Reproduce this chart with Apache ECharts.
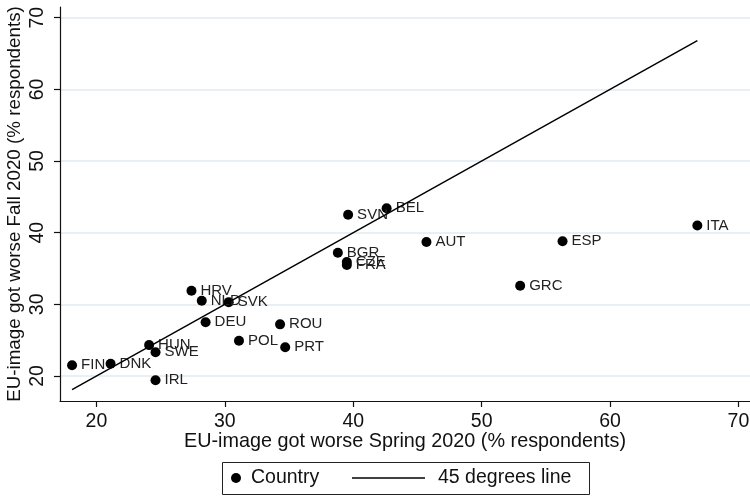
<!DOCTYPE html>
<html>
<head>
<meta charset="utf-8">
<script src="https://cdn.jsdelivr.net/npm/echarts@6/dist/echarts.min.js"></script>
<style>
html,body{margin:0;padding:0;background:#fff;}
#chart{width:750px;height:496px;}
</style>
</head>
<body>
<div id="chart"></div>
<script>
const countries = ['FIN','DNK','HUN','SWE','IRL','HRV','NLD','SVK','DEU','POL','ROU','PRT','SVN','BEL','AUT','BGR','CZE','FRA','ESP','ITA','GRC'];
const spring2020 = [18.1,21.1,24.1,24.6,24.6,27.4,28.2,30.3,28.5,31.1,34.3,34.7,39.6,42.6,45.7,38.8,39.5,39.5,56.3,66.8,53.0];
const fall2020 = [21.5,21.7,24.3,23.3,19.4,31.9,30.5,30.3,27.5,24.9,27.2,24.0,42.5,43.4,38.7,37.2,35.9,35.5,38.8,41.0,32.6];
const lineEnds = [18.1, 66.8];
const xTicks = [20,30,40,50,60,70];
const yTicks = [20,30,40,50,60,70];

const FONT = '"Liberation Sans", Arial, sans-serif';
const chart = echarts.init(document.getElementById('chart'), null, {renderer:'canvas'});

const scatterData = countries.map((c,i)=>({name:c, value:[spring2020[i], fall2020[i]]}));
const lineData = lineEnds.map(v=>[v,v]);

const legendText = {fontSize:19.5, color:'#111', fontFamily:FONT};

chart.setOption({
  animation:false,
  backgroundColor:'#fff',
  textStyle:{fontFamily:FONT},
  grid:{left:60, right:0, top:7, bottom:95, containLabel:false, outerBoundsMode:'none'},
  graphic:[{
    type:'rect', left:222, top:462, silent:true,
    shape:{width:367, height:32},
    style:{fill:'#fff', stroke:'#222', lineWidth:1}
  }],
  legend:[
    {
      left:231, top:468, padding:0,
      itemWidth:10, itemHeight:10,
      textStyle:Object.assign({padding:[0,0,0,5]}, legendText),
      data:[{name:'Country', icon:'circle', itemStyle:{color:'#000'}}]
    },
    {
      left:352, top:468, padding:0,
      itemWidth:73, itemHeight:10,
      textStyle:Object.assign({padding:[0,0,0,8]}, legendText),
      data:[{name:'45 degrees line', icon:'path://M0,0L0,0M0,4.3L73,4.3L73,5.7L0,5.7ZM73,10L73,10', itemStyle:{color:'#000'}}]
    }
  ],
  xAxis:{
    type:'value', min:17.16, max:70.9,
    name:'EU-image got worse Spring 2020 (% respondents)',
    nameLocation:'middle', nameGap:31, nameMoveOverlap:false,
    nameTextStyle:{fontSize:19.8, color:'#111', fontFamily:FONT},
    axisLine:{show:true, onZero:false, lineStyle:{color:'#111', width:1.2}},
    axisTick:{show:true, length:6, customValues:xTicks, lineStyle:{color:'#111', width:1.2}},
    axisLabel:{customValues:xTicks, fontSize:19.5, color:'#111', margin:11, fontFamily:FONT},
    splitLine:{show:false}
  },
  yAxis:{
    type:'value', min:16.5, max:71.5,
    name:'EU-image got worse Fall 2020 (% respondents)',
    nameLocation:'middle', nameGap:36, nameRotate:90, nameMoveOverlap:false,
    nameTextStyle:{fontSize:18.8, color:'#111', fontFamily:FONT},
    axisLine:{show:true, onZero:false, lineStyle:{color:'#111', width:1.2}},
    axisTick:{show:true, length:6, customValues:yTicks, lineStyle:{color:'#111', width:1.2}},
    axisLabel:{customValues:yTicks, rotate:90, fontSize:19.5, color:'#111', margin:12, fontFamily:FONT},
    splitLine:{show:true, customValues:yTicks, lineStyle:{color:'#e3eaef', width:1.5}}
  },
  series:[
    {
      name:'Country', type:'scatter',
      data:scatterData,
      symbol:'circle', symbolSize:10,
      itemStyle:{color:'#000', opacity:1},
      label:{show:true, position:'right', distance:4, formatter:'{b}', fontSize:15, color:'#222', fontFamily:FONT},
      labelLayout:{hideOverlap:false},
      z:3
    },
    {
      name:'45 degrees line', type:'line',
      data:lineData,
      symbol:'none',
      lineStyle:{color:'#000', width:1.5},
      itemStyle:{color:'#000'},
      z:4
    }
  ]
});
</script>
</body>
</html>
